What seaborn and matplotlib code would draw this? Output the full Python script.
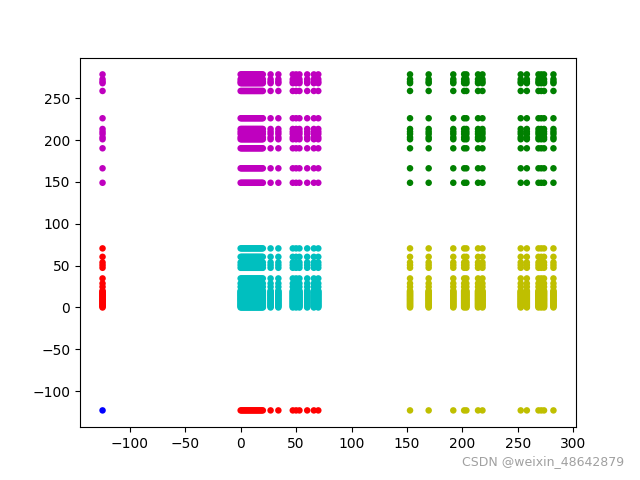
import itertools
import pandas as pd
import matplotlib
matplotlib.use("Agg")
import matplotlib.pyplot as plt
import seaborn as sns

# coordinate values
x_out = [-124.5]
x_low = [0, 1, 2, 3, 4, 5, 6, 7, 8, 9, 10, 11, 12, 13, 14, 15, 16, 17, 18, 19, 20,
         27, 34, 47, 50, 53, 60, 66, 70]
x_high = [152.7, 169.5, 191.7, 201.5, 203.5, 214, 218, 252.5, 258, 268.5, 271, 273.5, 282]

y_out = [-123]
y_low = [0, 1, 2, 3, 4, 5, 6, 7, 8, 9, 10, 11, 12, 13, 14, 15, 16, 17, 18, 19, 20,
         24.6, 28.7, 34.7, 47.4, 50.6, 53.8, 60.5, 70.6]
y_high = [149, 166.3, 190.2, 201, 203.3, 207.3, 210, 213.3, 226.1,
          258.7, 268, 269.9, 272.7, 278.5]

cluster_colors = {'b': 'b', 'r': 'r', 'c': 'c', 'm': 'm', 'g': 'g', 'y': 'y'}


def group(v, out, low):
    if v in out:
        return 'out'
    if v in low:
        return 'low'
    return 'high'


rows = []
for x, y in itertools.product(x_out + x_low + x_high, y_out + y_low + y_high):
    gx = group(x, x_out, x_low)
    gy = group(y, y_out, y_low)
    if gy == 'high':
        lab = 'g' if gx == 'high' else 'm'
    elif gx == 'high':
        lab = 'y'
    elif gx == 'out' and gy == 'out':
        lab = 'b'
    elif gx == 'low' and gy == 'low':
        lab = 'c'
    else:
        lab = 'r'
    rows.append((x, y, lab))

df = pd.DataFrame(rows, columns=['x', 'y', 'label'])

fig, ax = plt.subplots(figsize=(6.4, 4.8), dpi=100)
sns.scatterplot(data=df, x='x', y='y', hue='label', palette=cluster_colors,
                s=22, linewidth=0, legend=False, ax=ax)
ax.set_xlabel('')
ax.set_ylabel('')

fig.text(0.975, 0.025, 'CSDN @weixin_48642879', ha='right', va='bottom',
         fontsize=9, color='#a0a0a0')

plt.savefig('out.png')
